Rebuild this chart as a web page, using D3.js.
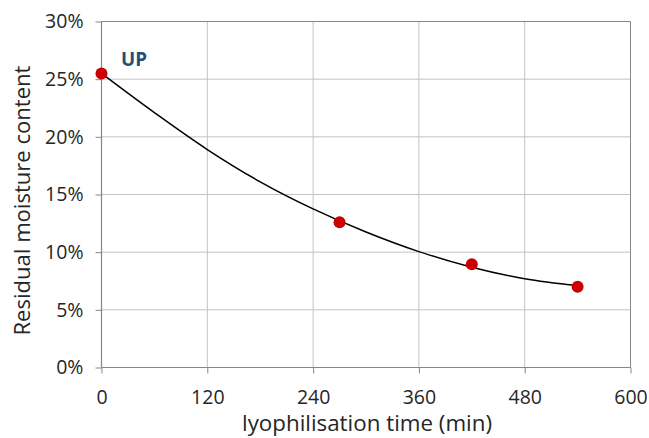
<!DOCTYPE html>
<html>
<head>
<meta charset="utf-8">
<script src="https://cdn.jsdelivr.net/npm/d3@7"></script>
<style>
  html, body { margin: 0; padding: 0; background: #fff; }
  svg { display: block; font-family: "Open Sans", "Noto Sans", sans-serif; }
</style>
</head>
<body>
<svg id="chart" width="649" height="438"></svg>
<script>
// Measured data points (time in min, residual moisture %)
const pointTimes = [0, 270, 420, 540];
const pointMoisture = [25.5, 12.6, 8.95, 7.0];

// Trend curve
const curveTimes = [0, 60, 120, 180, 240, 300, 360, 420, 480, 540];
const curveMoisture = [25.5, 22.1, 18.9, 16.1, 13.75, 11.75, 10.05, 8.7, 7.7, 7.1];

const xTicks = [0, 120, 240, 360, 480, 600];
const yTicks = [0, 5, 10, 15, 20, 25, 30];

const seriesLabel = "UP";
const xTitle = "lyophilisation time (min)";
const yTitle = "Residual moisture content";

const svg = d3.select("#chart");
const margin = { left: 101.5, right: 18.5, top: 21.5, bottom: 70.5 };
const W = 649, H = 438;

const x = d3.scaleLinear().domain([0, 600]).range([margin.left, W - margin.right]);
const y = d3.scaleLinear().domain([0, 30]).range([H - margin.bottom, margin.top]);

const gridColor = "#c3c3c3";
const axisColor = "#868686";

// Gridlines
svg.append("g").selectAll("line.v").data(xTicks.slice(1)).join("line")
  .attr("x1", d => x(d)).attr("x2", d => x(d))
  .attr("y1", y(0)).attr("y2", y(30))
  .attr("stroke", gridColor).attr("stroke-width", 1);
svg.append("g").selectAll("line.h").data(yTicks.slice(1)).join("line")
  .attr("x1", x(0)).attr("x2", x(600))
  .attr("y1", d => y(d)).attr("y2", d => y(d))
  .attr("stroke", gridColor).attr("stroke-width", 1);

// Plot border (top/right)
svg.append("line").attr("x1", x(0)).attr("x2", x(600)).attr("y1", y(30)).attr("y2", y(30))
  .attr("stroke", axisColor);
svg.append("line").attr("x1", x(600)).attr("x2", x(600)).attr("y1", y(0)).attr("y2", y(30))
  .attr("stroke", axisColor);

// Axes
const xAxis = d3.axisBottom(x).tickValues(xTicks).tickSize(6).tickPadding(9)
  .tickFormat(d3.format("d"));
const yAxis = d3.axisLeft(y).tickValues(yTicks).tickSize(6).tickPadding(12)
  .tickFormat(d => d + "%");

const gx = svg.append("g").attr("transform", `translate(0,${y(0)})`).call(xAxis);
const gy = svg.append("g").attr("transform", `translate(${x(0)},0)`).call(yAxis);
[gx, gy].forEach(g => {
  g.select(".domain").attr("stroke", axisColor).attr("stroke-width", 1.2);
  g.selectAll(".tick line").attr("stroke", axisColor);
  g.selectAll(".tick text").attr("fill", "#262626")
    .style("font-size", "19.5px").style("font-family", '"Open Sans", sans-serif');
});
gx.select(".domain").attr("d", `M${x(0)},0H${x(600)}`);
gy.select(".domain").attr("d", `M0,${y(0)}V${y(30)}`);
gx.selectAll(".tick text").attr("dy", null).attr("y", 36);

// Curve
const curveData = curveTimes.map((t, i) => [t, curveMoisture[i]]);
svg.append("path")
  .datum(curveData)
  .attr("d", d3.line().x(d => x(d[0])).y(d => y(d[1])).curve(d3.curveCatmullRom))
  .attr("fill", "none").attr("stroke", "#000").attr("stroke-width", 1.5);

// Points
svg.append("g").selectAll("circle").data(pointTimes.map((t, i) => [t, pointMoisture[i]]))
  .join("circle")
  .attr("cx", d => x(d[0])).attr("cy", d => y(d[1])).attr("r", 6)
  .attr("fill", "#cc0000");

// Series label
svg.append("text").attr("x", 121).attr("y", 66)
  .attr("fill", "#1f4e79").style("font-weight", "bold").style("font-size", "19px")
  .attr("textLength", 26).attr("lengthAdjust", "spacingAndGlyphs")
  .text(seriesLabel);

// Axis titles
svg.append("text")
  .attr("x", (x(0) + x(600)) / 2 + 1).attr("y", 431)
  .attr("text-anchor", "middle").attr("fill", "#262626")
  .style("font-size", "21px")
  .attr("textLength", 250).attr("lengthAdjust", "spacingAndGlyphs")
  .text(xTitle);

svg.append("text")
  .attr("transform", `translate(30,${(y(0) + y(30)) / 2 + 6}) rotate(-90)`)
  .attr("text-anchor", "middle").attr("fill", "#262626")
  .style("font-size", "21px")
  .attr("textLength", 270).attr("lengthAdjust", "spacingAndGlyphs")
  .text(yTitle);
</script>
</body>
</html>
